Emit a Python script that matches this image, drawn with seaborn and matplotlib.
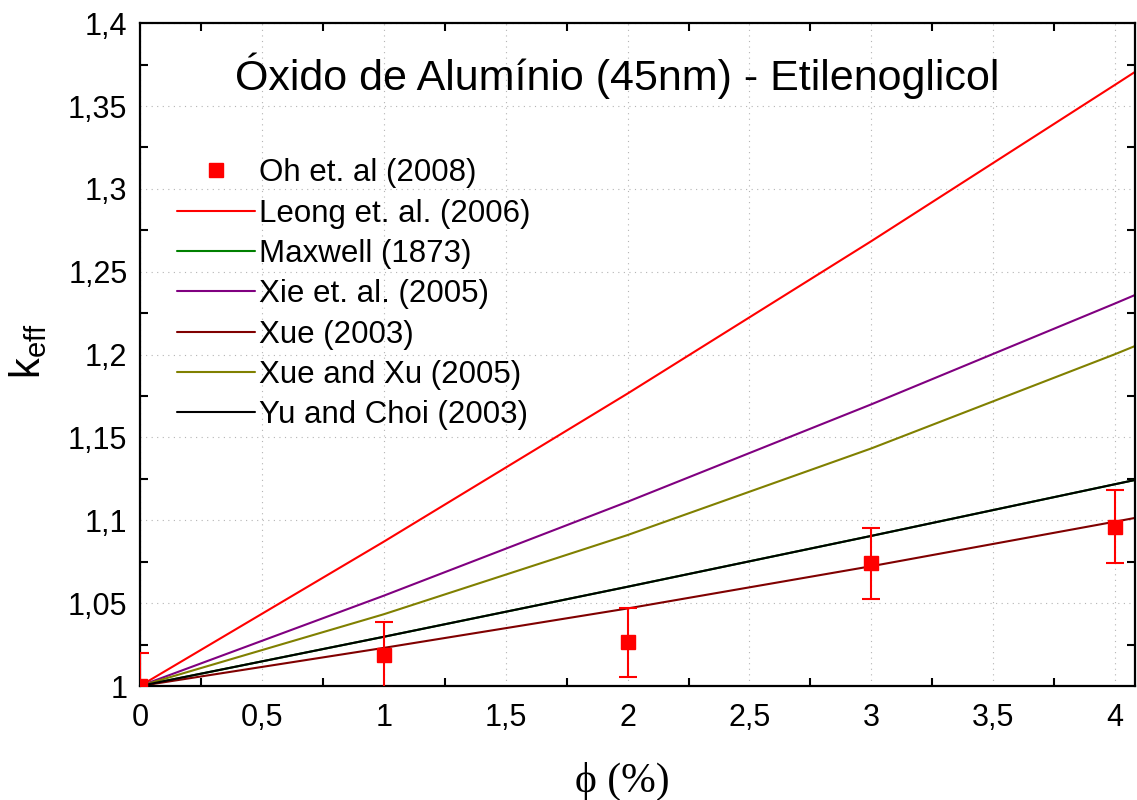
import numpy as np
import pandas as pd
import matplotlib
matplotlib.use("Agg")
import matplotlib.pyplot as plt
from matplotlib.lines import Line2D
from matplotlib.ticker import FixedLocator, FixedFormatter, MultipleLocator
import seaborn as sns

# Volume fraction (%) at which each model curve is sampled
phi_model = [0.0, 1.0, 2.0, 3.0, 4.0, 4.08]

# Effective thermal conductivity ratio predicted by each model
leong = [1.0, 1.0871, 1.1765, 1.2685, 1.3629, 1.3705]
maxwell = [1.0, 1.0297, 1.0599, 1.0906, 1.1218, 1.1243]
xie = [1.0, 1.0545, 1.1112, 1.1700, 1.2309, 1.2359]
xue = [1.0, 1.0230, 1.0468, 1.0723, 1.0992, 1.1014]
xue_xu = [1.0, 1.0433, 1.0911, 1.1434, 1.2003, 1.2051]
yu_choi = [1.0, 1.0297, 1.0599, 1.0906, 1.1218, 1.1243]

# Measured values (Oh et al., 2008) with their uncertainty
phi_exp = [0.0, 1.0, 2.0, 3.0, 4.0]
k_exp = [1.0, 1.0187, 1.0263, 1.0742, 1.0961]
k_err = [0.020, 0.0200, 0.0207, 0.0214, 0.0220]

model_names = ["Leong et. al. (2006)", "Maxwell (1873)", "Xie et. al. (2005)",
               "Xue (2003)", "Xue and Xu (2005)", "Yu and Choi (2003)"]
model_values = [leong, maxwell, xie, xue, xue_xu, yu_choi]
model_colors = ["#ff0000", "#008000", "#800080", "#800000", "#808000", "#000000"]

x_ticks = [0, 0.5, 1, 1.5, 2, 2.5, 3, 3.5, 4]
x_labels = ["0", "0,5", "1", "1,5", "2", "2,5", "3", "3,5", "4"]
y_ticks = [1.0, 1.05, 1.1, 1.15, 1.2, 1.25, 1.3, 1.35, 1.4]
y_labels = ["1", "1,05", "1,1", "1,15", "1,2", "1,25", "1,3", "1,35", "1,4"]

sns.set_theme(style="white")
plt.rcParams["font.family"] = ["Liberation Sans", "DejaVu Sans"]
plt.rcParams["mathtext.fontset"] = "custom"
plt.rcParams["mathtext.rm"] = "Liberation Sans"
for key in ["text.color", "axes.labelcolor", "xtick.color", "ytick.color"]:
    plt.rcParams[key] = "black"

df = pd.DataFrame({
    "phi": np.tile(phi_model, len(model_names)),
    "k": np.concatenate(model_values),
    "model": np.repeat(model_names, len(phi_model)),
})

fig = plt.figure(figsize=(11.37, 8.0), dpi=100)
ax = fig.add_axes([0.1231, 0.1425, 0.8749, 0.8285])

sns.lineplot(data=df, x="phi", y="k", hue="model", hue_order=model_names,
             palette=dict(zip(model_names, model_colors)), linewidth=1.5,
             legend=False, ax=ax, sort=False, estimator=None)

ax.errorbar(phi_exp, k_exp, yerr=k_err, fmt="s", color="#ff0000", ms=9.5,
            ecolor="#ff0000", elinewidth=1.5, capsize=6.5, capthick=1.5,
            zorder=5)

ax.set_xlim(0, 4.08)
ax.set_ylim(1.0, 1.4)

ax.xaxis.set_major_locator(FixedLocator(x_ticks))
ax.xaxis.set_major_formatter(FixedFormatter(x_labels))
ax.yaxis.set_major_locator(FixedLocator(y_ticks))
ax.yaxis.set_major_formatter(FixedFormatter(y_labels))
ax.xaxis.set_minor_locator(MultipleLocator(0.25))
ax.yaxis.set_minor_locator(MultipleLocator(0.025))

ax.tick_params(which="major", length=0, labelsize=22, pad=9, labelcolor="black")
ax.tick_params(which="minor", direction="in", length=6, width=1.5,
               color="black", top=True, right=True, bottom=True, left=True)
ax.tick_params(axis="x", which="major", pad=12)

ax.grid(True, which="major", linestyle=(0, (1, 4)), color="#b4b4b4", linewidth=0.8)
for spine in ax.spines.values():
    spine.set_color("black")
    spine.set_linewidth(1.6)
    spine.set_visible(True)

ax.set_xlabel("\u03d5 (%)", fontsize=30, family=["Liberation Serif", "DejaVu Serif"],
              labelpad=14)
ax.set_ylabel(r"k$_\mathregular{eff}$", fontsize=30, labelpad=8)
ax.yaxis.set_label_coords(-0.091, 0.505)
ax.xaxis.set_label_coords(0.485, -0.115)

ax.text(0.48, 0.92, "Óxido de Alumínio (45nm) - Etilenoglicol",
        transform=ax.transAxes, ha="center", va="center", fontsize=31)

handles = [Line2D([], [], marker="s", linestyle="none", color="#ff0000", ms=9.5)]
handles += [Line2D([], [], color=c, linewidth=1.5) for c in model_colors]
labels = ["Oh et. al (2008)"] + model_names
ax.legend(handles, labels, loc="upper left", bbox_to_anchor=(0.025, 0.815),
          frameon=False, fontsize=22.5, handlelength=2.5, handletextpad=0.1,
          labelspacing=0.33, borderaxespad=0, labelcolor="black")

fig.savefig("out.png", dpi=100)
